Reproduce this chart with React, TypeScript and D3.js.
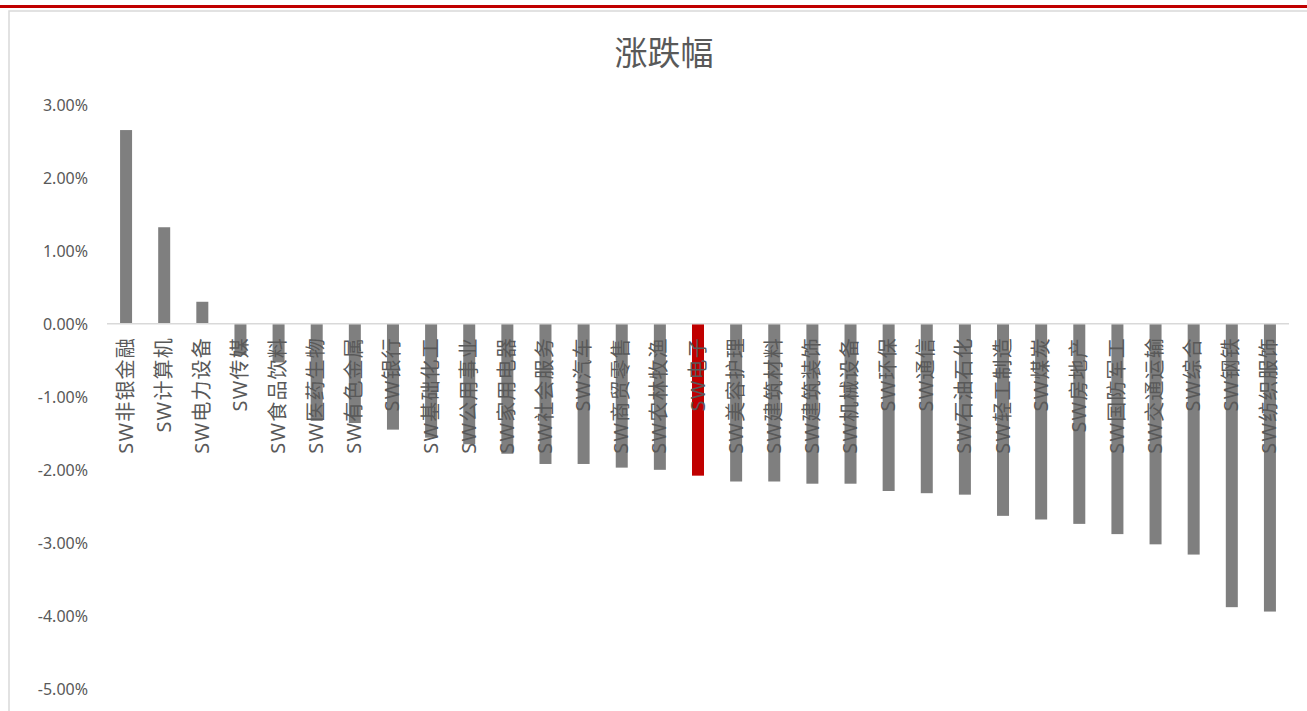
import React from "react";
import * as d3 from "d3";

const categories: string[] = [
  "SW非银金融", "SW计算机", "SW电力设备", "SW传媒", "SW食品饮料", "SW医药生物",
  "SW有色金属", "SW银行", "SW基础化工", "SW公用事业", "SW家用电器", "SW社会服务",
  "SW汽车", "SW商贸零售", "SW农林牧渔", "SW电子", "SW美容护理", "SW建筑材料",
  "SW建筑装饰", "SW机械设备", "SW环保", "SW通信", "SW石油石化", "SW轻工制造",
  "SW煤炭", "SW房地产", "SW国防军工", "SW交通运输", "SW综合", "SW钢铁", "SW纺织服饰",
];

const values: number[] = [
  2.65, 1.32, 0.30, -0.43, -0.53, -1.33,
  -1.36, -1.45, -1.56, -1.65, -1.78, -1.92,
  -1.92, -1.97, -2.00, -2.08, -2.16, -2.16,
  -2.19, -2.19, -2.29, -2.32, -2.34, -2.63,
  -2.68, -2.74, -2.88, -3.02, -3.16, -3.88, -3.94,
];

const highlight: string[] = ["SW电子"];
const yTicks: number[] = [3, 2, 1, 0, -1, -2, -3, -4, -5];
const title = "涨跌幅";

export default function App() {
  const W = 1307;
  const H = 711;
  const cats = categories.slice(0, values.length);
  const x = d3.scaleBand<string>().domain(cats).range([107, 1289]).paddingInner(0).paddingOuter(0);
  const y = d3.scaleLinear().domain([-5, 3]).range([689, 104.5]);
  const barW = 12;
  const font = "'Noto Sans', 'Noto Sans CJK SC', sans-serif";
  const textColor = "#595959";

  return (
    <svg
      width={W}
      height={H}
      style={{ position: "fixed", left: 0, top: 0, background: "#fff" }}
    >
      <rect x={0} y={0} width={W} height={H} fill="#fff" />
      <line x1={0} x2={W} y1={6.5} y2={6.5} stroke="#c00000" strokeWidth={3} />
      <rect x={9} y={11} width={W + 10} height={H + 10} fill="#fff" stroke="#d9d9d9" strokeWidth={1.5} />
      <text
        x={664}
        y={52}
        textAnchor="middle"
        dominantBaseline="central"
        fontFamily={font}
        fontSize={33}
        fill={textColor}
      >
        {title}
      </text>
      {yTicks.map((t) => (
        <text
          key={t}
          x={88}
          y={y(t)}
          textAnchor="end"
          dominantBaseline="central"
          fontFamily={font}
          fontSize={16}
          fill={textColor}
        >
          {t.toFixed(2) + "%"}
        </text>
      ))}
      {cats.map((c, i) => {
        const v = values[i];
        const cx = (x(c) as number) + x.bandwidth() / 2;
        return (
          <rect
            key={c}
            x={cx - barW / 2}
            y={Math.min(y(v), y(0))}
            width={barW}
            height={Math.abs(y(v) - y(0))}
            fill={highlight.includes(c) ? "#c00000" : "#7f7f7f"}
          />
        );
      })}
      <line x1={107} x2={1289} y1={y(0)} y2={y(0)} stroke="#d9d9d9" strokeWidth={1.5} />
      {cats.map((c) => {
        const cx = (x(c) as number) + x.bandwidth() / 2;
        return (
          <text
            key={c}
            transform={`translate(${cx - 1},${337}) rotate(-90)`}
            textAnchor="end"
            dominantBaseline="central"
            fontFamily={font}
            fontSize={20}
            letterSpacing={1.2}
            fill={textColor}
          >
            {c}
          </text>
        );
      })}
    </svg>
  );
}
